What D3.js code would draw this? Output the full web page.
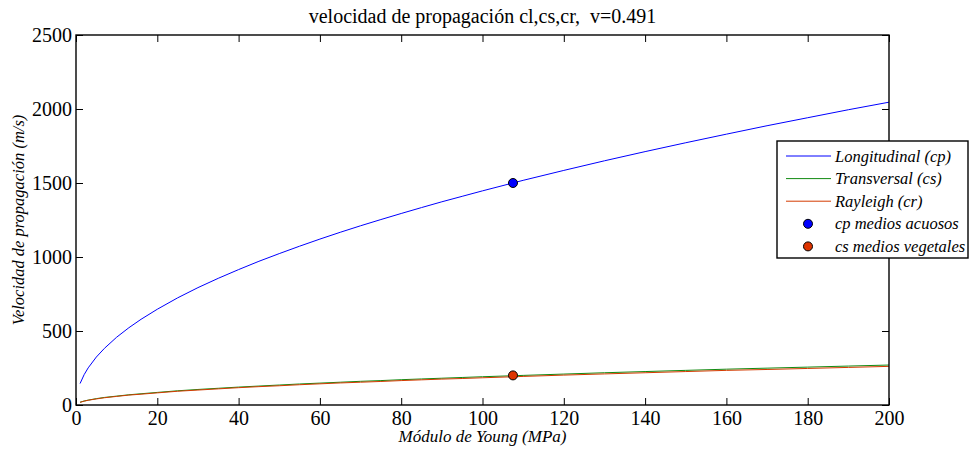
<!DOCTYPE html>
<html lang="es">
<head>
<meta charset="utf-8">
<title>velocidad de propagación</title>
<script src="https://d3js.org/d3.v7.min.js"></script>
<style>
    body { margin: 0; background: #fff; }
    svg text { font-family: "Liberation Serif", "Times New Roman", "DejaVu Serif", serif; fill: #000; }
    .legend-text { font-style: italic; font-size: 16.5px; }
</style>
</head>
<body>
<div id="chart"></div>
<script>
    // Módulo de Young (MPa)
    var young = [1, 2, 3, 5, 7, 10, 13, 16, 20, 25, 30, 35, 40, 45, 50, 55, 60, 65, 70, 75,
                 80, 85, 90, 95, 100, 110, 120, 130, 140, 150, 160, 170, 180, 190, 200];
    // velocidades (m/s)
    var cp = [145, 205, 251, 324, 383, 458, 522, 579, 647, 724, 793, 856, 915, 971, 1023, 1073, 1121, 1167, 1211, 1253,
              1294, 1334, 1373, 1410, 1447, 1518, 1585, 1650, 1712, 1772, 1830, 1887, 1941, 1995, 2046];
    var cs = [19, 27, 33, 43, 51, 60, 69, 76, 85, 96, 105, 113, 121, 128, 135, 142, 148, 154, 160, 165,
              171, 176, 181, 186, 191, 200, 209, 218, 226, 234, 242, 249, 256, 263, 270];
    var cr = [18, 26, 32, 41, 49, 58, 67, 73, 82, 93, 101, 109, 117, 124, 130, 137, 143, 149, 154, 159,
              165, 170, 175, 179, 184, 193, 202, 210, 218, 226, 234, 240, 247, 254, 261];
    // puntos de referencia
    var puntoAgua = {E: 107.5, v: 1500};
    var puntoVegetal = {E: 107.5, v: 200};

    var xTicks = d3.range(0, 201, 20);
    var yTicks = d3.range(0, 2501, 500);

    var series = [
        {name: "Longitudinal (cp)", values: cp, color: "#0000ff"},
        {name: "Transversal (cs)", values: cs, color: "#118a11"},
        {name: "Rayleigh (cr)", values: cr, color: "#d43a00"}
    ];
    var puntos = [
        {name: "cp medios acuosos", p: puntoAgua, color: "#0000ff"},
        {name: "cs medios vegetales", p: puntoVegetal, color: "#dd3300"}
    ];

    var w = 969, h = 450;
    var mLeft = 76, mRight = 889, mTop = 35, mBottom = 405;
    var serif = "Liberation Serif, Times New Roman, serif";

    var svg = d3.select("#chart").append("svg")
        .attr("width", w)
        .attr("height", h);

    var x = d3.scaleLinear().domain([0, 200]).range([mLeft, mRight]);
    var y = d3.scaleLinear().domain([0, 2500]).range([mBottom, mTop]);

    // curvas
    series.forEach(function(s) {
        var line = d3.line()
            .x(function(d, i) { return x(young[i]); })
            .y(function(d) { return y(d); });
        svg.append("path")
            .datum(s.values)
            .attr("fill", "none")
            .attr("stroke", s.color)
            .attr("stroke-width", 1)
            .attr("d", line);
    });

    puntos.forEach(function(p) {
        svg.append("circle")
            .attr("cx", x(p.p.E))
            .attr("cy", y(p.p.v))
            .attr("r", 4.5)
            .attr("fill", p.color)
            .attr("stroke", "#000")
            .attr("stroke-width", 1);
    });

    // ejes con marcas hacia dentro, estilo caja
    var tl = 7;
    var gx = svg.append("g")
        .attr("transform", "translate(0," + mBottom + ")")
        .call(d3.axisBottom(x).tickValues(xTicks).tickSizeInner(-tl).tickSizeOuter(0).tickPadding(6));
    svg.append("g")
        .attr("transform", "translate(0," + mTop + ")")
        .call(d3.axisTop(x).tickValues(xTicks).tickSizeInner(-tl).tickSizeOuter(0).tickFormat(""));
    var gy = svg.append("g")
        .attr("transform", "translate(" + mLeft + ",0)")
        .call(d3.axisLeft(y).tickValues(yTicks).tickSizeInner(-tl).tickSizeOuter(0).tickPadding(4).tickFormat(d3.format("d")));
    svg.append("g")
        .attr("transform", "translate(" + mRight + ",0)")
        .call(d3.axisRight(y).tickValues(yTicks).tickSizeInner(-tl).tickSizeOuter(0).tickFormat(""));

    svg.selectAll(".domain").remove();
    svg.selectAll(".tick line").attr("stroke", "#000");
    [gx, gy].forEach(function(g) {
        g.attr("font-family", serif).attr("font-size", 20);
    });

    svg.append("rect")
        .attr("x", mLeft).attr("y", mTop)
        .attr("width", mRight - mLeft).attr("height", mBottom - mTop)
        .attr("fill", "none")
        .attr("stroke", "#000")
        .attr("stroke-width", 1.4);

    // títulos
    svg.append("text")
        .attr("x", (mLeft + mRight) / 2)
        .attr("y", 23)
        .attr("text-anchor", "middle")
        .attr("font-size", 20)
        .style("white-space", "pre")
        .text("velocidad de propagación cl,cs,cr,  v=0.491");

    svg.append("text")
        .attr("x", (mLeft + mRight) / 2)
        .attr("y", 442)
        .attr("text-anchor", "middle")
        .attr("font-size", 17)
        .attr("font-style", "italic")
        .text("Módulo de Young (MPa)");

    svg.append("text")
        .attr("transform", "translate(24," + (mTop + mBottom) / 2 + ") rotate(-90)")
        .attr("text-anchor", "middle")
        .attr("font-size", 16.5)
        .attr("font-style", "italic")
        .text("Velocidad de propagación (m/s)");

    // leyenda
    var lx = 777, ly = 141, lw = 191, lh = 117;
    var legend = svg.append("g");
    legend.append("rect")
        .attr("x", lx).attr("y", ly)
        .attr("width", lw).attr("height", lh)
        .attr("fill", "#fff")
        .attr("stroke", "#000")
        .attr("stroke-width", 1.4);

    var rowY = function(i) { return ly + 15 + i * 22.6; };
    series.forEach(function(s, i) {
        legend.append("line")
            .attr("x1", lx + 9).attr("x2", lx + 54)
            .attr("y1", rowY(i)).attr("y2", rowY(i))
            .attr("stroke", s.color)
            .attr("stroke-width", 1);
        legend.append("text")
            .attr("class", "legend-text")
            .attr("x", lx + 58)
            .attr("y", rowY(i) + 5.5)
            .text(s.name);
    });
    puntos.forEach(function(p, j) {
        var i = j + 3;
        legend.append("circle")
            .attr("cx", lx + 31).attr("cy", rowY(i))
            .attr("r", 4.5)
            .attr("fill", p.color)
            .attr("stroke", "#000")
            .attr("stroke-width", 1);
        legend.append("text")
            .attr("class", "legend-text")
            .attr("x", lx + 58)
            .attr("y", rowY(i) + 5.5)
            .text(p.name);
    });
</script>
</body>
</html>
